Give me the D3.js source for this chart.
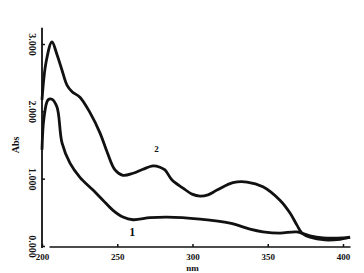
<!DOCTYPE html>
<html>
<head>
<meta charset="utf-8">
<style>
  body { margin: 0; background: #fff; }
  svg text { font-family: 'Liberation Serif', 'DejaVu Serif', serif; font-weight: bold; fill: #111; }
  .tick line { stroke: #111; stroke-width: 1.5; }
</style>
</head>
<body>
<div id="chart"></div>
<script src="https://cdn.jsdelivr.net/npm/d3@7"></script>
<script>
  // wavelength (nm) / absorbance for the two spectra
  var wl2 = [200, 202.7, 206.6, 210, 213.3, 216.6, 220, 225.2, 231.9, 238.5, 243.2, 248.5, 253.8, 260.5, 267.1, 273.8, 278.4, 281.7, 286.4, 293.7, 299.7, 305, 310.3, 316.3, 326.9, 336.2, 346.8, 358.1, 364.8, 369.4, 372.8, 378.1, 388, 398, 404.7];
  var abs2 = [2.17, 2.73, 3.03, 2.84, 2.61, 2.39, 2.29, 2.21, 1.98, 1.68, 1.40, 1.13, 1.05, 1.08, 1.14, 1.19, 1.17, 1.13, 0.98, 0.86, 0.77, 0.74, 0.76, 0.83, 0.94, 0.95, 0.88, 0.68, 0.49, 0.31, 0.19, 0.13, 0.09, 0.10, 0.13];
  var wl1 = [200, 201.3, 204, 206.6, 210, 213.3, 218.6, 225.2, 233.9, 240.5, 247.2, 253.8, 260.5, 271.8, 283.1, 305, 324.9, 338.2, 346.8, 358.1, 369.4, 378.1, 386.7, 400, 404.7];
  var abs1 = [1.43, 1.90, 2.17, 2.18, 2.06, 1.53, 1.23, 1.02, 0.83, 0.68, 0.53, 0.43, 0.39, 0.42, 0.43, 0.40, 0.34, 0.25, 0.21, 0.19, 0.21, 0.15, 0.12, 0.12, 0.13];
  var xTicks = [200, 250, 300, 350, 400];
  var xTickLabels = ['200', '250', '300', '350', '400'];
  var yTicks = [0, 1, 2, 3];
  var yTickLabels = ['0.000', '1.000', '2.000', '3.000'];

  var width = 364, height = 273;
  var svg = d3.select('#chart').append('svg')
    .attr('width', width).attr('height', height);

  var x = d3.scaleLinear().domain([200, 400]).range([42, 343]);
  var y = d3.scaleLinear().domain([0, 3]).range([246, 44]);

  // axis lines (hand-drawn look: x axis starts a bit right of the y axis)
  svg.append('line')
    .attr('x1', x(205)).attr('x2', x(405))
    .attr('y1', y(-0.015)).attr('y2', y(-0.015))
    .attr('stroke', '#111').attr('stroke-width', 1.6);
  svg.append('line')
    .attr('x1', x(200)).attr('x2', x(200))
    .attr('y1', y(-0.03)).attr('y2', y(3.24))
    .attr('stroke', '#111').attr('stroke-width', 1.8);

  var xAxis = svg.append('g')
    .attr('transform', 'translate(0,' + y(-0.015) + ')')
    .call(d3.axisBottom(x).tickValues(xTicks)
      .tickFormat(function(d, i) { return xTickLabels[i]; })
      .tickSize(-3).tickPadding(7));
  xAxis.select('.domain').remove();
  xAxis.selectAll('text').style('font-size', '9px');

  var yAxis = svg.append('g')
    .attr('transform', 'translate(' + x(200) + ',0)')
    .call(d3.axisLeft(y).tickValues(yTicks)
      .tickFormat(function(d, i) { return yTickLabels[i]; })
      .tickSize(-3));
  yAxis.select('.domain').remove();
  yAxis.selectAll('text')
    .style('font-size', '10px')
    .attr('text-anchor', 'middle')
    .attr('x', 0).attr('dy', 0)
    .attr('transform', 'translate(-13,0) rotate(90)');

  svg.append('text')
    .attr('transform', 'translate(19,' + y(1.5) + ') rotate(-90)')
    .attr('text-anchor', 'middle')
    .style('font-size', '10px')
    .text('Abs');
  svg.append('text')
    .attr('x', x(300)).attr('y', 271)
    .attr('text-anchor', 'middle')
    .style('font-size', '9px')
    .text('nm');

  var line = d3.line()
    .x(function(d) { return x(d[0]); })
    .y(function(d) { return y(d[1]); })
    .curve(d3.curveCatmullRom.alpha(0.5));

  svg.append('path')
    .attr('d', line(d3.zip(wl2, abs2)))
    .attr('fill', 'none').attr('stroke', '#111')
    .attr('stroke-width', 2.8).attr('stroke-linejoin', 'round');
  svg.append('path')
    .attr('d', line(d3.zip(wl1, abs1)))
    .attr('fill', 'none').attr('stroke', '#111')
    .attr('stroke-width', 2.8).attr('stroke-linejoin', 'round');

  // curve numbers
  svg.append('text')
    .attr('x', x(276)).attr('y', y(1.4))
    .attr('text-anchor', 'middle').style('font-size', '9px')
    .text('2');
  svg.append('text')
    .attr('x', x(260)).attr('y', y(0.15))
    .attr('text-anchor', 'middle').style('font-size', '12px')
    .text('1');
</script>
</body>
</html>
